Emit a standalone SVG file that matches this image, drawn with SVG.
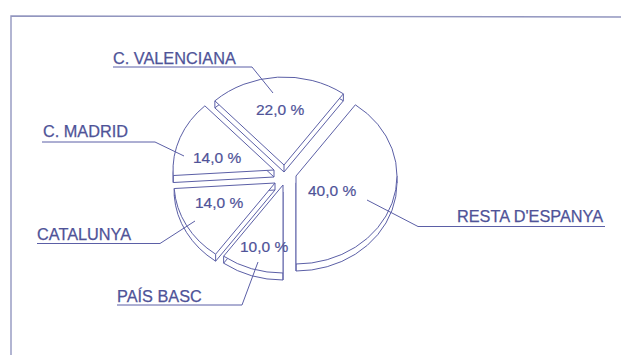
<svg xmlns="http://www.w3.org/2000/svg" xmlns:xlink="http://www.w3.org/1999/xlink" width="621" height="355" viewBox="0 0 621 355">
  <style>
    .frame { fill: none; stroke: #9296bf; stroke-width: 1.4; }
    .side { fill: #ffffff; stroke: #5b5fa6; stroke-width: 1; stroke-linejoin: round; }
    .top { fill: #ffffff; stroke: #5b5fa6; stroke-width: 1; stroke-linejoin: round; }
    .edge { fill: none; stroke: #5b5fa6; stroke-width: 1; }
    .lead { fill: none; stroke: #5b5fa6; stroke-width: 1; }
    .lbl { font-family: "Liberation Sans", Arial, sans-serif; font-size: 16.3px; fill: #4f5398; stroke: #4f5398; stroke-width: 0.25; }
    .pct { font-family: "Liberation Sans", Arial, sans-serif; font-size: 15.5px; fill: #4f5398; stroke: #4f5398; stroke-width: 0.2; }
  </style>
  <defs>
    <path id="p-val" d="M284,165 L214.87,100.85 A101,88 0 0 1 343.37,93.81 Z"/>
    <path id="p-mad" d="M274,170 L173.2,175.53 A101,88 0 0 1 204.87,105.85 Z"/>
    <path id="p-res" d="M296,176 L355.37,104.81 A101,88 0 0 1 296,264 Z"/>
    <path id="p-cat" d="M275,183 L215.63,254.19 A101,88 0 0 1 174.2,188.53 Z"/>
    <path id="p-pb" d="M283,185 L283,273 A101,88 0 0 1 223.63,256.19 Z"/>
  </defs>

  <path class="frame" d="M11,355 V16 L621,17"/>

  <g id="valenciana">
    <use xlink:href="#p-val" href="#p-val" class="side" transform="translate(0,7)"/>
    <path class="edge" d="M284,165 v7 M214.87,100.85 v7 M343.37,93.81 v7"/>
    <use xlink:href="#p-val" href="#p-val" class="top"/>
    <text class="pct" x="256" y="115">22,0 %</text>
    <text class="lbl" x="113" y="64">C. VALENCIANA</text>
  </g>

  <g id="madrid">
    <use xlink:href="#p-mad" href="#p-mad" class="side" transform="translate(0,7)"/>
    <path class="edge" d="M274,170 v7 M173.2,175.53 v7"/>
    <use xlink:href="#p-mad" href="#p-mad" class="top"/>
    <text class="pct" x="193" y="163">14,0 %</text>
    <text class="lbl" x="43" y="136.5">C. MADRID</text>
  </g>

  <g id="resta">
    <use xlink:href="#p-res" href="#p-res" class="side" transform="translate(0,7)"/>
    <path class="edge" d="M296,264 v7 M397,176 v7"/>
    <use xlink:href="#p-res" href="#p-res" class="top"/>
    <text class="pct" x="308" y="196">40,0 %</text>
    <text class="lbl" x="457" y="222">RESTA D'ESPANYA</text>
  </g>

  <g id="catalunya">
    <use xlink:href="#p-cat" href="#p-cat" class="side" transform="translate(0,7)"/>
    <path class="edge" d="M275,183 v7 M215.63,254.19 v7 M174.2,188.53 v7"/>
    <use xlink:href="#p-cat" href="#p-cat" class="top"/>
    <text class="pct" x="195" y="208">14,0 %</text>
    <text class="lbl" x="37" y="240">CATALUNYA</text>
  </g>

  <g id="pais-basc">
    <use xlink:href="#p-pb" href="#p-pb" class="side" transform="translate(0,7)"/>
    <path class="edge" d="M283,273 v7 M223.63,256.19 v7"/>
    <use xlink:href="#p-pb" href="#p-pb" class="top"/>
    <text class="pct" x="240" y="252">10,0 %</text>
    <text class="lbl" x="117" y="302">PAÍS BASC</text>
  </g>

  <g id="connectors">
    <path class="lead" d="M113,67 H252 L273,93"/>
    <path class="lead" d="M42,142 H155 L184,156"/>
    <path class="lead" d="M37,243.5 H160 L195,221"/>
    <path class="lead" d="M117,305 H242 L258,262"/>
    <path class="lead" d="M605,226.5 H418 L367,200"/>
  </g>
</svg>
